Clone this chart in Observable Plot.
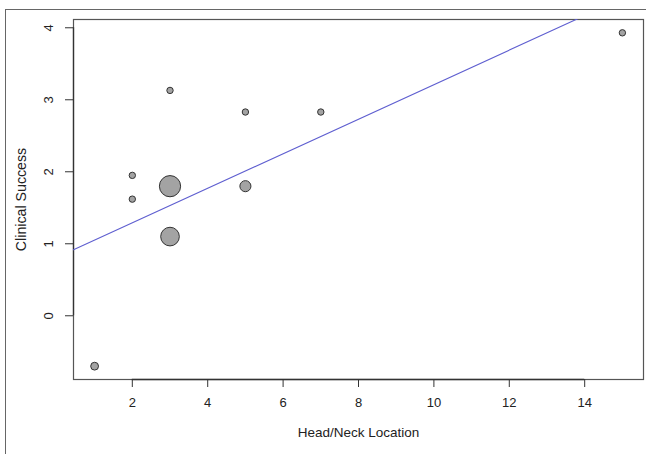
<!DOCTYPE html>
<html>
<head>
<meta charset="utf-8">
<script src="https://cdn.jsdelivr.net/npm/d3@7"></script>
<script src="https://cdn.jsdelivr.net/npm/@observablehq/plot@0.6"></script>
<style>
  html, body { margin: 0; padding: 0; background: #fff; }
  #wrap { position: relative; width: 646px; height: 454px; overflow: hidden; }
  #outer { position: absolute; left: 5px; top: 9px; width: 700px; height: 500px;
           border-left: 1.3px solid #666; border-top: 1.3px solid #666; box-sizing: border-box; }
  #chart { position: absolute; left: 0; top: 0; }
</style>
</head>
<body>
<div id="wrap"><div id="outer"></div><div id="chart"></div></div>
<script>
// Data
const location_ = [1, 2, 2, 3, 3, 3, 5, 5, 7, 15];
const success   = [-0.70, 1.95, 1.62, 3.13, 1.80, 1.10, 2.83, 1.80, 2.83, 3.93];
const weight    = [1.5, 1, 1, 1, 11, 8.5, 1, 3, 1, 1];
const xTicks = [2, 4, 6, 8, 10, 12, 14];
const yTicks = [0, 1, 2, 3, 4];
const fitIntercept = 0.81;
const fitSlope = 0.24;

const points = location_.map((x, i) => ({x, y: success[i], w: weight[i]}));
const xDomain = [0.44, 15.56];
const yDomain = [-0.885, 4.115];
const fitLine = xDomain.map(x => ({x, y: fitIntercept + fitSlope * x}));

const chart = Plot.plot({
  width: 646,
  height: 454,
  marginLeft: 73,
  marginRight: 3,
  marginTop: 19,
  marginBottom: 75,
  style: {fontFamily: "Liberation Sans, Arial, sans-serif", fontSize: "13px", color: "#222", background: "transparent"},
  x: {domain: xDomain},
  y: {domain: yDomain},
  r: {type: "sqrt", domain: [0, 1], range: [0, 3.2]},
  marks: [
    Plot.frame({stroke: "#555", strokeWidth: 1.2}),
    Plot.ruleY([yDomain[0]], {x1: xTicks[0], x2: xTicks[xTicks.length - 1], stroke: "#333", strokeWidth: 1.3}),
    Plot.ruleX([xDomain[0]], {y1: yTicks[0], y2: yTicks[yTicks.length - 1], stroke: "#333", strokeWidth: 1.3}),
    Plot.axisX({ticks: xTicks, tickSize: 8, tickPadding: 10, stroke: "#333", fill: "#222", label: null, fontSize: 13, tickFormat: d => String(d)}),
    Plot.axisY({ticks: yTicks, tickSize: 8, stroke: "#333", label: null, tickFormat: () => ""}),
    Plot.text(yTicks, {y: d => d, text: d => String(d), frameAnchor: "left", dx: -25, rotate: -90, textAnchor: "middle", lineAnchor: "middle", fontSize: 13, fill: "#222"}),
    Plot.text(["Head/Neck Location"], {frameAnchor: "bottom", dy: 57, fontSize: 13.5, fill: "#222"}),
    Plot.text(["Clinical Success"], {frameAnchor: "left", dx: -52, rotate: -90, textAnchor: "middle", lineAnchor: "middle", fontSize: 14.2, fill: "#222"}),
    Plot.line(fitLine, {x: "x", y: "y", stroke: "#5f5fd0", strokeWidth: 1.1, clip: true}),
    Plot.dot(points, {x: "x", y: "y", r: "w", fill: "#a3a3a3", stroke: "#333", strokeWidth: 1})
  ]
});
document.getElementById("chart").appendChild(chart);
</script>
</body>
</html>
